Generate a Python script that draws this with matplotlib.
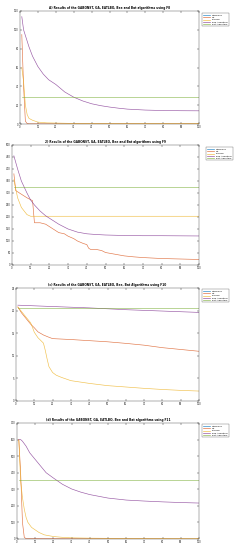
import matplotlib
matplotlib.use("Agg")
import matplotlib.pyplot as plt

names = ["GABONST", "GA", "EATLBO", "Bee Algorithm", "Bat Algorithm"]
colors = ["#0072BD", "#D95319", "#EDB120", "#7E2F8E", "#77AC30"]

titles = [
    "A) Results of the GABONST, GA, EATLBO, Bee and Bat algorithms using F8",
    "2) Results of the GABONST, GA, EATLBO, Bee and Bat algorithms using F9",
    "(c) Results of the GABONST, GA, EATLBO, Bee, Bat Algorithms using F10",
    "(d) Results of the GABONST, GA, EATLBO, Bee and Bat algorithms using F11",
]

# ---- F8 ----
f8_gabonst_x = [1, 100]
f8_gabonst_y = [0, 0]
f8_ga_x = [1, 2, 3, 4, 5, 100]
f8_ga_y = [95, 40, 3, 0.5, 0.2, 0.1]
f8_eatlbo_x = [1, 2, 3, 4, 5, 7, 10, 15, 20, 30, 100]
f8_eatlbo_y = [60, 45, 20, 10, 6, 4, 2, 1.2, 1, 0.6, 0.5]
f8_bee_x = [1, 2, 3, 5, 7, 10, 13, 16, 20, 25, 30, 35, 40, 45, 50, 55, 60, 70, 80, 90, 100]
f8_bee_y = [114, 100, 94, 82, 72, 61, 53, 47, 42, 34, 28.5, 24.5, 21.5, 19.5, 18, 16.8, 15.8, 14.8, 14.3, 14.1, 14]
f8_bat_x = [1, 100]
f8_bat_y = [28.5, 28.5]

# ---- F9 ----
f9_gabonst_x = [1, 100]
f9_gabonst_y = [2, 2]
f9_ga_x = [1, 2, 4, 6, 8, 10, 11, 12, 15, 18, 20, 22, 25, 28, 30, 33, 35, 38, 40, 41, 42, 45, 48, 50, 55, 60, 65, 70, 75, 80, 90, 100]
f9_ga_y = [380, 310, 300, 290, 280, 272, 268, 176, 176, 170, 160, 150, 135, 130, 120, 110, 100, 90, 85, 70, 65, 65, 60, 52, 45, 38, 34, 31, 29, 27, 25, 23]
f9_eatlbo_x = [1, 3, 5, 8, 10, 100]
f9_eatlbo_y = [355, 280, 240, 210, 203, 203]
f9_bee_x = [1, 3, 5, 8, 10, 12, 15, 18, 20, 25, 30, 35, 40, 45, 50, 60, 70, 80, 100]
f9_bee_y = [455, 400, 350, 300, 270, 250, 225, 205, 195, 170, 150, 137, 130, 127, 125, 123, 122, 122, 121]
f9_bat_x = [1, 100]
f9_bat_y = [325, 325]

# ---- F10 ----
f10_gabonst_x = [1, 100]
f10_gabonst_y = [0, 0]
f10_ga_x = [1, 3, 5, 8, 10, 12, 15, 18, 20, 25, 30, 40, 50, 60, 70, 80, 90, 100]
f10_ga_y = [20.8, 19.5, 18.5, 17, 16.2, 15.3, 14.6, 14.1, 13.8, 13.7, 13.6, 13.35, 13.1, 12.75, 12.35, 11.8, 11.4, 11.0]
f10_eatlbo_x = [1, 3, 5, 8, 9, 10, 12, 15, 16, 17, 18, 20, 22, 25, 30, 40, 50, 60, 70, 80, 90, 100]
f10_eatlbo_y = [20.8, 19.8, 18.8, 17.3, 16.3, 15.2, 14, 12.8, 11.2, 9.3, 7.6, 6.3, 5.7, 5.2, 4.5, 3.9, 3.4, 3.1, 2.8, 2.55, 2.35, 2.2]
f10_bee_x = [1, 20, 40, 60, 80, 100]
f10_bee_y = [21.2, 20.9, 20.6, 20.2, 19.9, 19.6]
f10_bat_x = [1, 100]
f10_bat_y = [20.6, 20.6]

# ---- F11 ----
f11_gabonst_x = [1, 100]
f11_gabonst_y = [0, 0]
f11_ga_x = [1, 2, 3, 4, 5, 100]
f11_ga_y = [600, 400, 100, 10, 2, 0]
f11_eatlbo_x = [1, 2, 3, 4, 5, 6, 8, 10, 12, 15, 20, 25, 30, 40, 50, 100]
f11_eatlbo_y = [600, 350, 250, 180, 130, 100, 70, 55, 40, 25, 15, 10, 7, 5, 4, 3]
f11_bee_x = [1, 2, 3, 5, 7, 10, 13, 16, 20, 25, 30, 35, 40, 50, 60, 70, 80, 90, 100]
f11_bee_y = [600, 600, 590, 560, 520, 480, 440, 400, 368, 330, 302, 283, 268, 247, 235, 229, 224, 220, 217]
f11_bat_x = [1, 100]
f11_bat_y = [354, 354]

panels = [
    [(f8_gabonst_x, f8_gabonst_y), (f8_ga_x, f8_ga_y), (f8_eatlbo_x, f8_eatlbo_y), (f8_bee_x, f8_bee_y), (f8_bat_x, f8_bat_y)],
    [(f9_gabonst_x, f9_gabonst_y), (f9_ga_x, f9_ga_y), (f9_eatlbo_x, f9_eatlbo_y), (f9_bee_x, f9_bee_y), (f9_bat_x, f9_bat_y)],
    [(f10_gabonst_x, f10_gabonst_y), (f10_ga_x, f10_ga_y), (f10_eatlbo_x, f10_eatlbo_y), (f10_bee_x, f10_bee_y), (f10_bat_x, f10_bat_y)],
    [(f11_gabonst_x, f11_gabonst_y), (f11_ga_x, f11_ga_y), (f11_eatlbo_x, f11_eatlbo_y), (f11_bee_x, f11_bee_y), (f11_bat_x, f11_bat_y)],
]
ylims = [(0, 120), (0, 500), (0, 25), (0, 700)]
ysteps = [20, 50, 5, 100]

W, H = 243, 550
# axes boxes in pixels: left, top, right, bottom
boxes = [(20, 11, 199, 124), (12, 145, 199, 265), (16, 288, 199, 401), (17, 423, 199, 539)]
legpos = [(201, 12), (205, 146), (201, 288), (201, 423)]

fig = plt.figure(figsize=(W / 100, H / 100), dpi=100)
for i in range(4):
    l, t, r, b = boxes[i]
    ax = fig.add_axes([l / W, 1 - b / H, (r - l) / W, (b - t) / H])
    for k, (xs, ys) in enumerate(panels[i]):
        ax.plot(xs, ys, color=colors[k], lw=0.45, alpha=0.8, label=names[k])
    ax.set_xlim(0, 100)
    ax.set_ylim(*ylims[i])
    ax.set_xticks(range(0, 101, 10))
    lo, hi = ylims[i]
    yt = [lo + j * ysteps[i] for j in range(int((hi - lo) / ysteps[i]) + 1)]
    ax.set_yticks(yt)
    ax.tick_params(direction="in", length=1.2, width=0.3, labelsize=1.8, pad=1,
                   top=True, right=True, colors="#222222")
    for s in ax.spines.values():
        s.set_linewidth(0.3)
        s.set_color("#444444")
    ax.set_title(titles[i], fontsize=2.1, fontweight="bold", pad=1.5)
    lx, ly = legpos[i]
    leg = ax.legend(loc="upper left", bbox_to_anchor=(lx / W, 1 - ly / H),
                    bbox_transform=fig.transFigure, fontsize=1.6, frameon=True,
                    fancybox=False, handlelength=3, borderpad=0.6, labelspacing=0.3,
                    handletextpad=0.8)
    leg.get_frame().set_linewidth(0.3)
    leg.get_frame().set_edgecolor("#444444")
    for ln in leg.get_lines():
        ln.set_linewidth(0.5)

fig.savefig("out.png", dpi=100, facecolor="white")
